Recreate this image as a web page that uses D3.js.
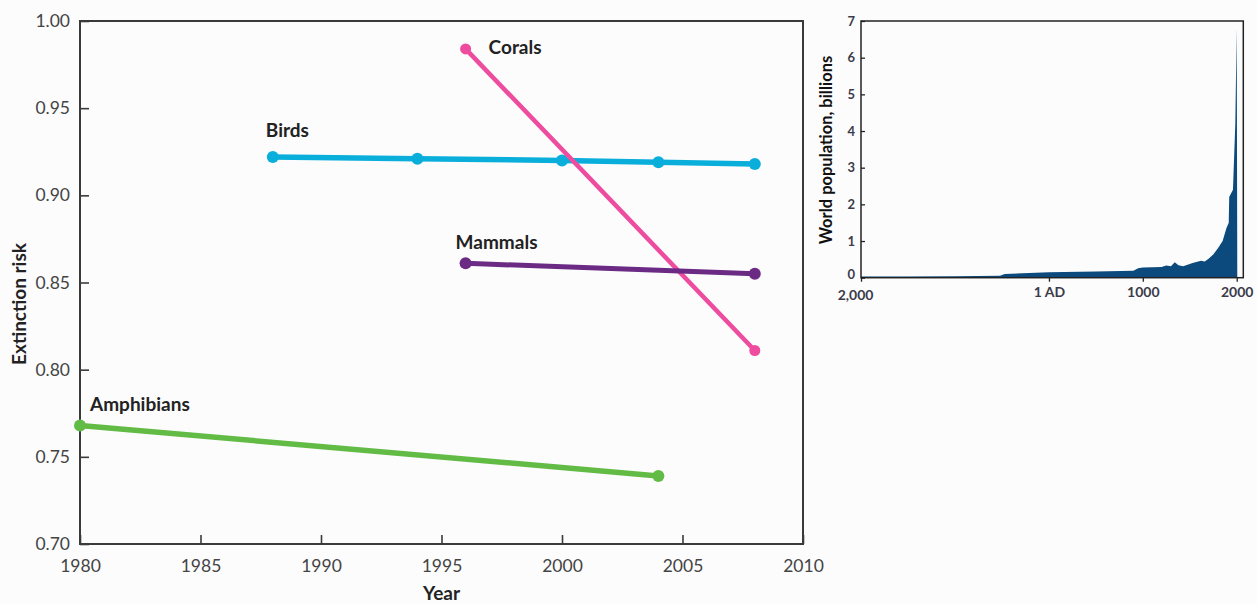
<!DOCTYPE html>
<html>
<head>
<meta charset="utf-8">
<script src="https://cdn.jsdelivr.net/npm/d3@7"></script>
<style>
  html, body { margin: 0; padding: 0; background: #fcfcfd; }
  svg { display: block; }
  text { font-family: Lato, "Open Sans", sans-serif; }
</style>
</head>
<body>
<svg id="chart" width="1257" height="604"></svg>
<script>
// ---- Extinction risk by group ----
const riskYearTicks = [1980, 1985, 1990, 1995, 2000, 2005, 2010];
const riskTicks = [0.70, 0.75, 0.80, 0.85, 0.90, 0.95, 1.00];

const birdsYears = [1988, 1994, 2000, 2004, 2008];
const birdsRisk = [0.922, 0.921, 0.920, 0.919, 0.918];

const coralsYears = [1996, 2008];
const coralsRisk = [0.984, 0.811];

const mammalsYears = [1996, 2008];
const mammalsRisk = [0.861, 0.855];

const amphibiansYears = [1980, 2004];
const amphibiansRisk = [0.768, 0.739];

// ---- World population ----
const popYears = [-2000, -1500, -1000, -520, -470, 1, 500, 900, 950, 1000, 1200, 1250, 1300, 1340,
                  1380, 1430, 1530, 1620, 1660, 1700, 1750, 1800, 1850, 1890, 1915, 1920, 1960,
                  1985, 2000, 2006];
const popBillions = [0.03, 0.035, 0.04, 0.05, 0.10, 0.15, 0.17, 0.19, 0.26, 0.28, 0.29, 0.33, 0.31, 0.42,
                     0.34, 0.31, 0.40, 0.46, 0.44, 0.52, 0.63, 0.80, 1.00, 1.35, 1.50, 2.20, 2.40,
                     4.20, 6.80, 0];
const popYearTicks = [-2000, 1, 1000, 2000];
const popYearLabels = ["2,000", "1 AD", "1000", "2000"];
const popTicks = [0, 1, 2, 3, 4, 5, 6, 7];

const svg = d3.select("#chart");

// ===== Left panel =====
const x = d3.scaleLinear().domain([1980, 2010]).range([80, 803]);
const y = d3.scaleLinear().domain([0.70, 1.00]).range([544, 21]);

const left = svg.append("g");

left.append("g")
  .attr("transform", `translate(${x.range()[0]},0)`)
  .call(d3.axisLeft(y).tickValues(riskTicks).tickFormat(d3.format(".2f"))
        .tickSizeInner(-9).tickSizeOuter(0).tickPadding(10))
  .call(g => g.select(".domain").remove())
  .call(g => g.selectAll(".tick line").attr("stroke", "#3a3a3a").attr("stroke-width", 1.6))
  .call(g => g.selectAll(".tick text").attr("fill", "#444").style("font-size", "17.5px"));

left.append("g")
  .attr("transform", `translate(0,${y.range()[0]})`)
  .call(d3.axisBottom(x).tickValues(riskYearTicks).tickFormat(d3.format("d"))
        .tickSizeInner(-9).tickSizeOuter(0).tickPadding(16))
  .call(g => g.select(".domain").remove())
  .call(g => g.selectAll(".tick line").attr("stroke", "#3a3a3a").attr("stroke-width", 1.6))
  .call(g => g.selectAll(".tick text").attr("fill", "#444").style("font-size", "17.5px"));

left.append("rect")
  .attr("x", x.range()[0]).attr("y", y.range()[1])
  .attr("width", x.range()[1] - x.range()[0])
  .attr("height", y.range()[0] - y.range()[1])
  .attr("fill", "none").attr("stroke", "#3a3a3a").attr("stroke-width", 2);

left.append("text")
  .attr("x", (x.range()[0] + x.range()[1]) / 2).attr("y", 600)
  .attr("text-anchor", "middle").attr("font-weight", "bold")
  .style("font-size", "19px").attr("fill", "#222").text("Year");

left.append("text")
  .attr("transform", "translate(26,304) rotate(-90)")
  .attr("text-anchor", "middle").attr("font-weight", "bold")
  .style("font-size", "19px").attr("fill", "#222").text("Extinction risk");

const groups = [
  { name: "Birds", years: birdsYears, risk: birdsRisk, color: "#0aaedb", width: 5.5, r: 6, dx: -7, dy: -20 },
  { name: "Corals", years: coralsYears, risk: coralsRisk, color: "#ee4c9f", width: 4.5, r: 5.5, dx: 23, dy: 5 },
  { name: "Mammals", years: mammalsYears, risk: mammalsRisk, color: "#6b2a84", width: 5, r: 6, dx: -10, dy: -14 },
  { name: "Amphibians", years: amphibiansYears, risk: amphibiansRisk, color: "#62bb45", width: 5.5, r: 6, dx: 10, dy: -14 }
];

const line = d3.line().x(d => x(d[0])).y(d => y(d[1]));

groups.forEach(gr => {
  const pts = gr.years.map((yr, i) => [yr, gr.risk[i]]);
  const g = left.append("g");
  g.append("path").datum(pts).attr("d", line)
    .attr("fill", "none").attr("stroke", gr.color).attr("stroke-width", gr.width)
    .attr("stroke-linecap", "round");
  g.selectAll("circle").data(pts).join("circle")
    .attr("cx", d => x(d[0])).attr("cy", d => y(d[1])).attr("r", gr.r)
    .attr("fill", gr.color);
  g.append("text")
    .attr("x", x(pts[0][0]) + gr.dx).attr("y", y(pts[0][1]) + gr.dy)
    .attr("font-weight", "bold").style("font-size", "19px").attr("fill", "#222")
    .text(gr.name);
});

// ===== Right panel: world population =====
const px = d3.scaleLinear().domain([-2000, 2070]).range([861, 1243.3]);
const py = d3.scaleLinear().domain([0, 7]).range([277.7, 21]);

const right = svg.append("g");

const area = d3.area()
  .x(d => px(d[0])).y0(py(0)).y1(d => py(d[1]));
right.append("path")
  .datum(popYears.map((yr, i) => [yr, popBillions[i]]))
  .attr("d", area).attr("fill", "#0c4a7d");

right.append("g")
  .attr("transform", `translate(${px.range()[0]},0)`)
  .call(d3.axisLeft(py).tickValues(popTicks).tickFormat(d3.format("d"))
        .tickSizeInner(-4).tickSizeOuter(0).tickPadding(6))
  .call(g => g.select(".domain").remove())
  .call(g => g.selectAll(".tick line").attr("stroke", "#222").attr("stroke-width", 1.3))
  .call(g => g.selectAll(".tick text").attr("fill", "#3b3b4a").attr("font-weight", "bold")
        .style("font-size", "13px"))
  // the zero label sits right above the first year label; lift it slightly
  .call(g => g.selectAll(".tick text").filter(d => d === 0).attr("y", -3));

right.append("g")
  .attr("transform", `translate(0,${py.range()[0]})`)
  .call(d3.axisBottom(px).tickValues(popYearTicks).tickFormat((d, i) => popYearLabels[i])
        .tickSizeInner(4).tickSizeOuter(0).tickPadding(5))
  .call(g => g.select(".domain").remove())
  .call(g => g.selectAll(".tick line").attr("stroke", "#222").attr("stroke-width", 1.3))
  .call(g => g.selectAll(".tick text").attr("fill", "#3b3b4a").attr("font-weight", "bold")
        .style("font-size", "14px"))
  .call(g => g.selectAll(".tick text").filter((d, i) => i === 0).attr("dx", -6).attr("y", 12));

right.append("rect")
  .attr("x", px.range()[0]).attr("y", py.range()[1])
  .attr("width", px.range()[1] - px.range()[0])
  .attr("height", py.range()[0] - py.range()[1])
  .attr("fill", "none").attr("stroke", "#222").attr("stroke-width", 1.5);

right.append("text")
  .attr("transform", "translate(832,150) rotate(-90)")
  .attr("text-anchor", "middle").attr("font-weight", "bold")
  .style("font-size", "16.5px").attr("fill", "#111").text("World population, billions");
</script>
</body>
</html>
